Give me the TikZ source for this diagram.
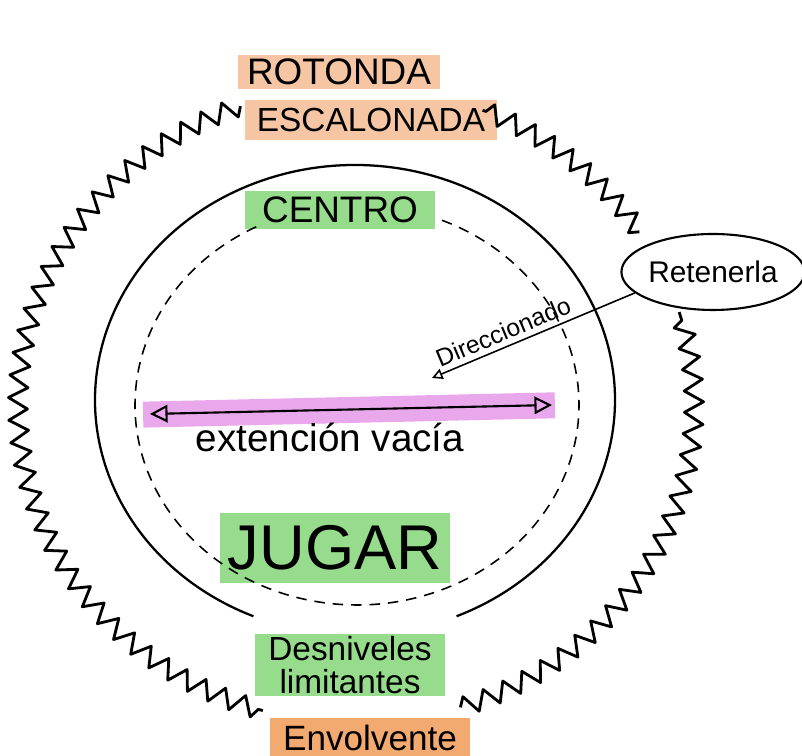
\documentclass[tikz,border=0pt]{standalone}
\usepackage{fontspec}
\setmainfont{Liberation Sans}
\usetikzlibrary{decorations.pathmorphing,arrows.meta,shapes.geometric}
\definecolor{hlorange}{RGB}{246,198,164}
\definecolor{hlorangeb}{RGB}{243,170,112}
\definecolor{hlgreen}{RGB}{150,220,140}
\definecolor{hlpink}{RGB}{234,168,236}
\begin{document}
\begin{tikzpicture}[x=0.02cm,y=0.02cm,
  ring/.style={line width=1.6pt, line join=round, decorate,
    decoration={zigzag, segment length=0.44cm, amplitude=0.19cm}},
  solidring/.style={line width=1.3pt},
  dashring/.style={line width=0.9pt, dash pattern=on 6pt off 4.5pt},
  hl/.style={fill=#1, inner sep=0pt, align=center},
  dblarrow/.style={line width=1.2pt, {Triangle[open,length=10pt,width=10pt]}-{Triangle[open,length=10pt,width=10pt]}},
  dirarrow/.style={line width=0.9pt, -{Triangle[open,length=6pt,width=6pt]}},
  lbl/.style={inner sep=1pt}]
\useasboundingbox (0,0) rectangle (802,756);
% highlighted labels
\node[hl=hlorange, minimum width=4.04cm, minimum height=0.68cm, font=\fontsize{21}{24}\selectfont] (rot) at (339,684) {ROTONDA};
\node[hl=hlorange, minimum width=5.04cm, minimum height=0.8cm, font=\fontsize{19}{22}\selectfont] (esc) at (371,636) {ESCALONADA};
\node[hl=hlgreen, minimum width=3.8cm, minimum height=0.76cm, font=\fontsize{21}{24}\selectfont] (cen) at (340,546) {CENTRO};
\node[hl=hlgreen, minimum width=4.6cm, minimum height=1.4cm, font=\fontsize{36}{40}\selectfont] (jug) at (335,208) {JUGAR};
\node[hl=hlgreen, minimum width=3.8cm, minimum height=1.24cm, font=\fontsize{19}{19}\selectfont] (des) at (350,91) {Desniveles\\limitantes};
\node[hl=hlorangeb, minimum width=4cm, minimum height=0.8cm, font=\fontsize{20}{22}\selectfont] (env) at (370,18) {Envolvente};
% pink bar and double arrow
\node[fill=hlpink, minimum width=8.24cm, minimum height=0.52cm, rotate=1.3, inner sep=0pt] (bar) at (349,346) {};
\coordinate (aL) at (150,342);
\coordinate (aR) at (552,351);
\draw[dblarrow] (aL) -- (aR);
\node[lbl, font=\fontsize{22}{24}\selectfont] (ext) at (330,319) {extención vacía};
% rings
\coordinate (oc) at (356,351);
\draw[ring] (oc) ++(33:6.76cm and 6.36cm) arc[start angle=33, end angle=68, x radius=6.76cm, y radius=6.36cm];
\draw[ring] (oc) ++(110:6.76cm and 6.36cm) arc[start angle=110, end angle=254, x radius=6.76cm, y radius=6.36cm];
\draw[ring] (oc) ++(288:6.76cm and 6.36cm) arc[start angle=288, end angle=377, x radius=6.76cm, y radius=6.36cm];
\coordinate (ic) at (355,356);
\draw[solidring] (ic) ++(-67:5.2cm and 4.7cm) arc[start angle=-67, end angle=247, x radius=5.2cm, y radius=4.7cm];
\coordinate (dc) at (357,351);
\draw[dashring] (dc) ++(117:4.44cm and 4.0cm) arc[start angle=117, end angle=429, x radius=4.44cm, y radius=4.0cm];
% Retenerla
\node[draw, ellipse, line width=1.2pt, minimum width=3.4cm, minimum height=1.52cm, inner sep=0pt, font=\fontsize{17}{19}\selectfont] (ret) at (713,484) {Retenerla};
\coordinate (dtip) at (432,378);
\draw[dirarrow] (ret.195) -- (dtip) node[pos=0.62, above=3pt, sloped, font=\fontsize{14}{16}\selectfont, inner sep=0pt] (dir) {Direccionado};
\end{tikzpicture}
\end{document}
